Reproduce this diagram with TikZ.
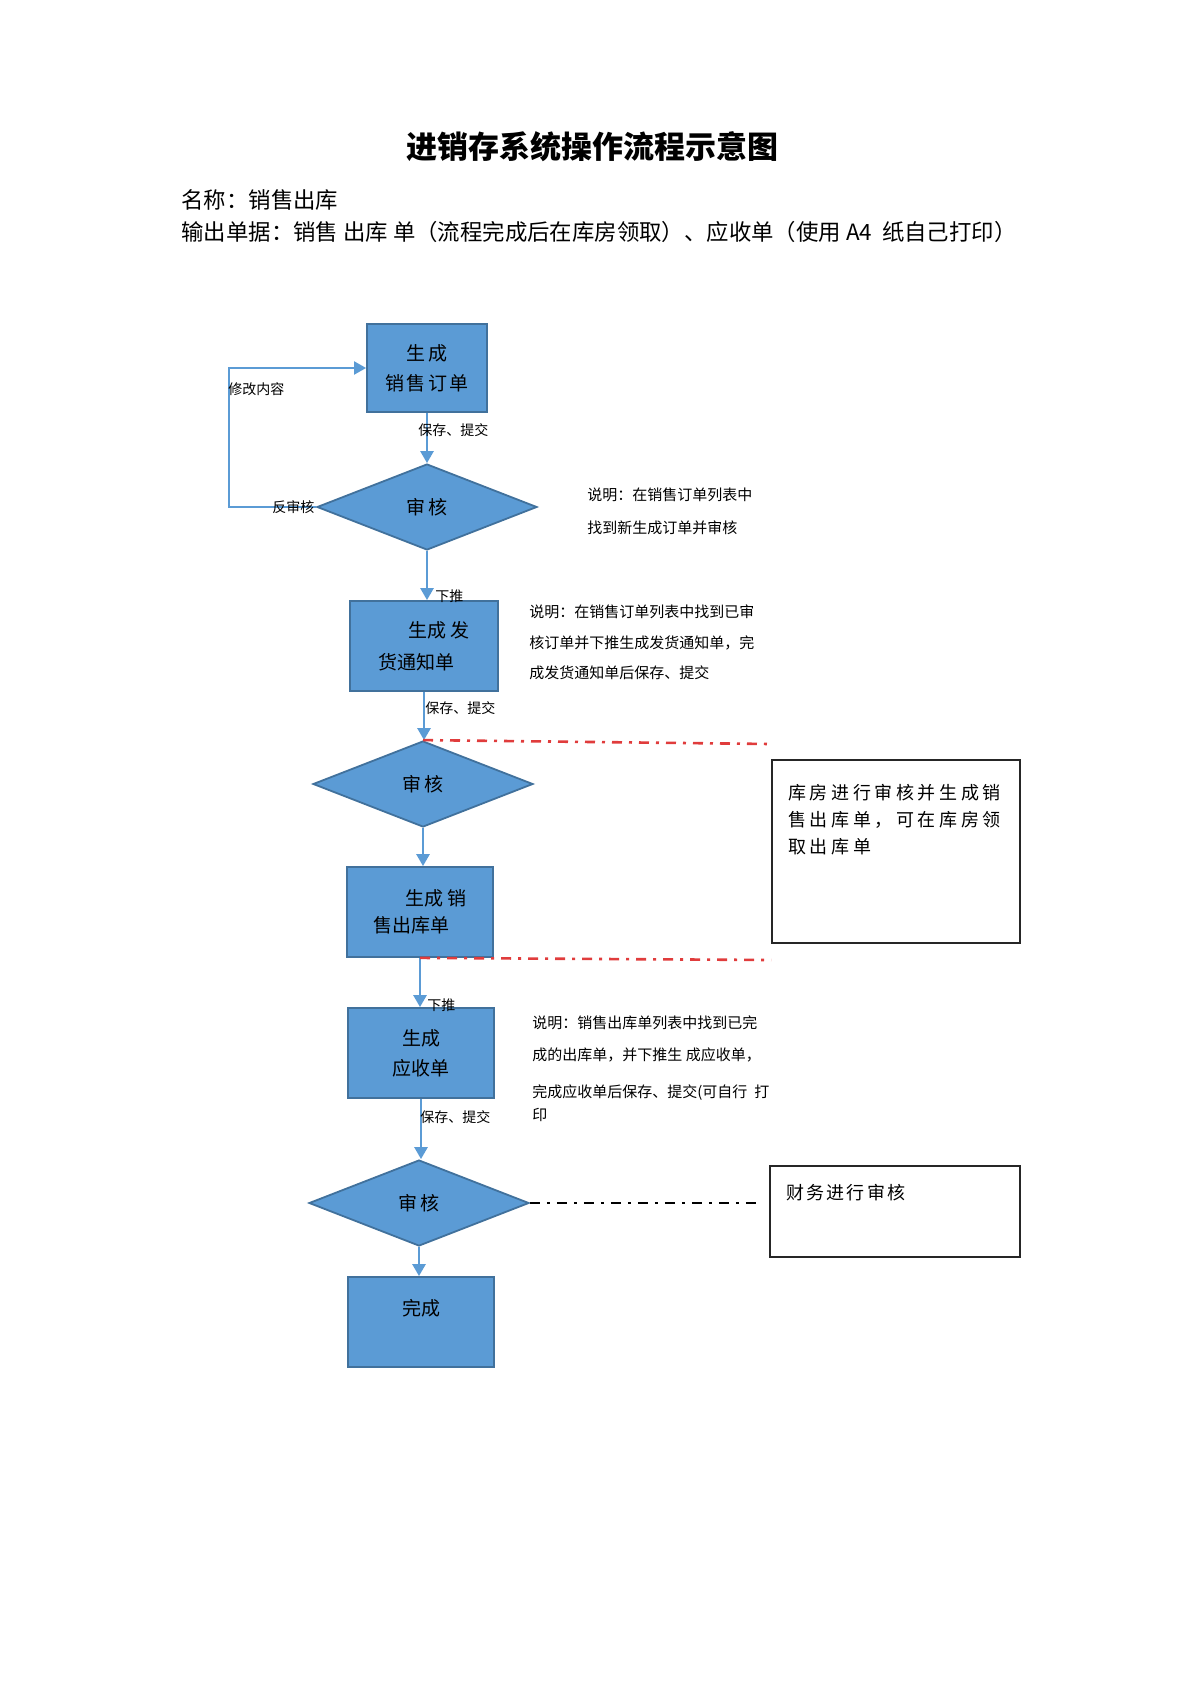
\documentclass[tikz,border=0pt]{standalone}
\usepackage{fontspec}
\setmainfont{Noto Sans CJK SC}
\newfontfamily\wide[LetterSpace=12]{Noto Sans CJK SC}
\newfontfamily\wider[LetterSpace=20]{Noto Sans CJK SC}
\usetikzlibrary{shapes.geometric}
\usetikzlibrary{arrows.meta}
\definecolor{boxblue}{HTML}{5B9BD5}
\definecolor{boxedge}{HTML}{41719C}
\definecolor{linkred}{HTML}{E03C3C}
\tikzset{
  procbox/.style={rectangle,draw=boxedge,fill=boxblue,line width=0.9pt,minimum width=73pt,minimum height=45pt,inner sep=0pt,align=left,font=\fontsize{9.5}{15}\selectfont},
  auditbox/.style={diamond,draw=boxedge,fill=boxblue,line width=0.9pt,minimum width=110pt,minimum height=43pt,inner sep=0pt,font=\fontsize{9.5}{12}\wide},
  flowline/.style={draw=boxblue,line width=1.3pt,-{Triangle[length=6pt,width=6.5pt]}},
  notebox/.style={rectangle,draw=black!85,line width=0.9pt,inner sep=0pt},
  edgelabel/.style={anchor=west,inner sep=0pt,font=\fontsize{7}{8}\selectfont},
  notetext/.style={anchor=north west,align=left,inner sep=0pt},
  redlink/.style={draw=linkred,line width=1.3pt,dash pattern=on 5pt off 3.5pt on 1.5pt off 3.5pt},
  blacklink/.style={draw=black,line width=1.4pt,dash pattern=on 5pt off 3.5pt on 1.5pt off 3.5pt}
}
\begin{document}
\begin{tikzpicture}[x=0.5pt,y=-0.5pt]
\useasboundingbox (0,0) rectangle (1190,1684);
\node (title) [font=\fontsize{15.5}{18}\selectfont\bfseries] at (592,147) {进销存系统操作流程示意图};
\node (name) [anchor=west,inner sep=0pt,font=\fontsize{11.2}{14}\selectfont] at (181,200) {名称：销售出库};
\node (output) [anchor=west,inner sep=0pt,font=\fontsize{11.2}{14}\selectfont] at (181,232) {输出单据：销售 出库 单（流程完成后在库房领取）、应收单（使用 A4\ \ 纸自己打印）};

\node (order) [procbox,minimum width=60pt,minimum height=44pt,align=center,font=\fontsize{9.5}{15}\wide] at (427,368) {生成\\销售订单};
\node (audit1) [auditbox] at (427,507) {审核};
\node (notice) [procbox,minimum width=74pt,font=\fontsize{9.5}{16}\selectfont] at (424,646) {\hspace{15pt}生成 发\\货通知单};
\node (audit2) [auditbox] at (423,784) {审核};
\node (outbound) [procbox,font=\fontsize{9.5}{13.5}\selectfont] at (420,912) {\hspace{16pt}生成 销\\售出库单};
\node (receipt) [procbox,align=center] at (421,1053) {生成\\应收单};
\node (audit3) [auditbox] at (419,1203) {审核};
\node (done) [procbox,align=center] at (421,1322) {完成\\\mbox{}};

\node (store) [notebox,minimum width=124pt,minimum height=91.5pt] at (896,851.5) {};
\node (storetext) [notetext,font=\fontsize{9}{13.5}\wider] at (788,783.5) {库房进行审核并生成销\\售出库单，可在库房领\\取出库单};
\node (finance) [notebox,minimum width=125pt,minimum height=45.5pt] at (895,1211.5) {};
\node (financetext) [notetext,font=\fontsize{9}{12}\wide] at (786,1184) {财务进行审核};

\node (note1) [notetext,font=\fontsize{7.5}{16.5}\selectfont] at (587,487.5) {说明：在销售订单列表中\\找到新生成订单并审核};
\node (note2) [notetext,font=\fontsize{7.5}{15.25}\selectfont] at (529,604.5) {说明：在销售订单列表中找到已审\\核订单并下推生成发货通知单，完\\成发货通知单后保存、提交};
\node (note3) [notetext,font=\fontsize{7.5}{16}\selectfont] at (532,1015.5) {说明：销售出库单列表中找到已完\\成的出库单，并下推生 成应收单，\\[2.5pt]完成应收单后保存、提交(可自行\hspace{3.5pt}打\\[-4.5pt]印};

\draw [flowline] (order.south) -- (audit1.north);
\draw [flowline] (audit1.south) -- (audit1.south |- notice.north);
\draw [flowline] (notice.south) -- (notice.south |- audit2.north);
\draw [flowline] (audit2.south) -- (audit2.south |- outbound.north);
\draw [flowline] (outbound.south) -- (outbound.south |- receipt.north);
\draw [flowline] (receipt.south) -- (receipt.south |- audit3.north);
\draw [flowline] (audit3.south) -- (audit3.south |- done.north);
\draw [flowline,line width=1pt] (audit1.west) -- ++(-87,0) |- (order.west);

\coordinate (storetop) at (770,744);
\coordinate (storebottom) at (771,960);
\coordinate (financeend) at (759,1203);
\draw [redlink] (audit2.north) -- (storetop);
\draw [redlink] (outbound.south) -- (storebottom);
\draw [blacklink] (audit3.east) -- (financeend);

\node (save1) [edgelabel] at (418,430) {保存、提交};
\node (push1) [edgelabel] at (435,596) {下推};
\node (save2) [edgelabel] at (425,708) {保存、提交};
\node (push2) [edgelabel] at (427,1005) {下推};
\node (save3) [edgelabel] at (420,1117) {保存、提交};
\node (modify) [edgelabel] at (228,389) {修改内容};
\node (unaudit) [edgelabel] at (272,507) {反审核};
\end{tikzpicture}
\end{document}
